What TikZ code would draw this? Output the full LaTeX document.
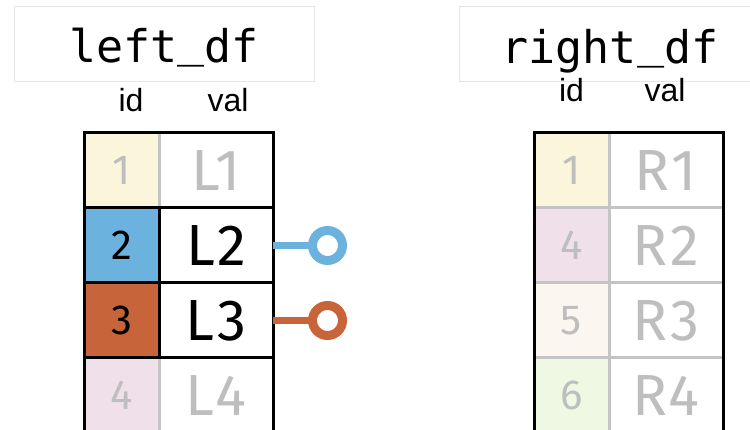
\documentclass[tikz,border=0pt]{standalone}
\usepackage{fontspec}
\setmainfont{Fira Sans}[LetterSpace=5]
\newfontfamily\codefont{DejaVu Sans Mono}
\newfontfamily\headfont{Liberation Sans}

\definecolor{keyblue}{HTML}{6BB2DE}
\definecolor{keyorange}{HTML}{C76439}
\definecolor{paleyellow}{HTML}{FBF6DB}
\definecolor{palepink}{HTML}{EFE0EA}
\definecolor{palecream}{HTML}{FBF6EF}
\definecolor{palegreen}{HTML}{EEF8E2}
\definecolor{gridgray}{HTML}{C4C4C4}
\definecolor{fadedtext}{HTML}{BEBEBE}
\definecolor{boxgray}{HTML}{E6E6E6}

\newcommand{\lowbar}{\raisebox{6pt}{\_}}

\tikzset{
  titlebox/.style={draw=boxgray, line width=1pt, minimum width=300pt, minimum height=75pt, inner sep=0pt, outer sep=0pt},
  titletext/.style={font=\codefont\fontsize{45}{50}\selectfont, anchor=base, inner sep=0pt},
  colhead/.style={font=\headfont\fontsize{32}{36}\selectfont, anchor=base, inner sep=0pt},
  cell/.style={draw=gridgray, line width=3pt, anchor=north west, inner sep=0pt, outer sep=0pt, minimum height=75pt, text=fadedtext},
  idcell/.style={cell, minimum width=75pt, font=\fontsize{42}{46}\selectfont},
  valcell/.style={cell, minimum width=114pt, font=\fontsize{58}{62}\selectfont},
  hot/.style={draw=black, text=black},
  frame/.style={draw=black, line width=3pt, line join=miter},
  pin/.style={circle, draw=#1, line width=9pt, minimum size=30pt, inner sep=0pt, outer sep=0pt, fill=white},
  stem/.style={draw=#1, line width=7pt}
}

\begin{document}
\begin{tikzpicture}[x=1pt, y=-1pt]
\useasboundingbox (0,0) rectangle (750,430);

% table titles
\node[titlebox] (lbox) at (164,44.5) {};
\node[titletext] (ltitle) at (164,63) {left\lowbar df};
\node[titlebox, minimum width=302pt] (rbox) at (610,44.5) {};
\node[titletext] (rtitle) at (610,64) {right\lowbar df};

% column headers
\node[colhead] (lid) at (131,112) {id};
\node[colhead] (lval) at (228,112) {val};
\node[colhead] (rid) at (571.5,102) {id};
\node[colhead] (rval) at (665,102) {val};

% left_df: unmatched rows
\node[idcell, fill=paleyellow] (l1i) at (84,133) {1};
\node[valcell] (l1v) at (159,133) {L1};
\node[idcell, fill=palepink] (l4i) at (84,358) {4};
\node[valcell] (l4v) at (159,358) {L4};
% left_df: rows being joined
\node[idcell, hot, fill=keyblue] (l2i) at (84,208) {2};
\node[valcell, hot] (l2v) at (159,208) {L2};
\node[idcell, hot, fill=keyorange] (l3i) at (84,283) {3};
\node[valcell, hot] (l3v) at (159,283) {L3};

% left_df outer frame
\draw[frame] (l4i.south west) -- (l1i.north west) -- (l1v.north east) -- (l4v.south east);

% key lollipops
\node[pin=keyblue] (p2) at (327.5,245.5) {};
\node[pin=keyorange] (p3) at (327.5,320.5) {};
\draw[stem=keyblue] (l2v.east) -- (p2.west);
\draw[stem=keyorange] (l3v.east) -- (p3.west);

% right_df
\node[idcell, fill=paleyellow] (r1i) at (534,133) {1};
\node[valcell] (r1v) at (609,133) {R1};
\node[idcell, fill=palepink] (r2i) at (534,208) {4};
\node[valcell] (r2v) at (609,208) {R2};
\node[idcell, fill=palecream] (r3i) at (534,283) {5};
\node[valcell] (r3v) at (609,283) {R3};
\node[idcell, fill=palegreen] (r4i) at (534,358) {6};
\node[valcell] (r4v) at (609,358) {R4};

% right_df outer frame
\draw[frame] (r4i.south west) -- (r1i.north west) -- (r1v.north east) -- (r4v.south east);
\end{tikzpicture}
\end{document}
